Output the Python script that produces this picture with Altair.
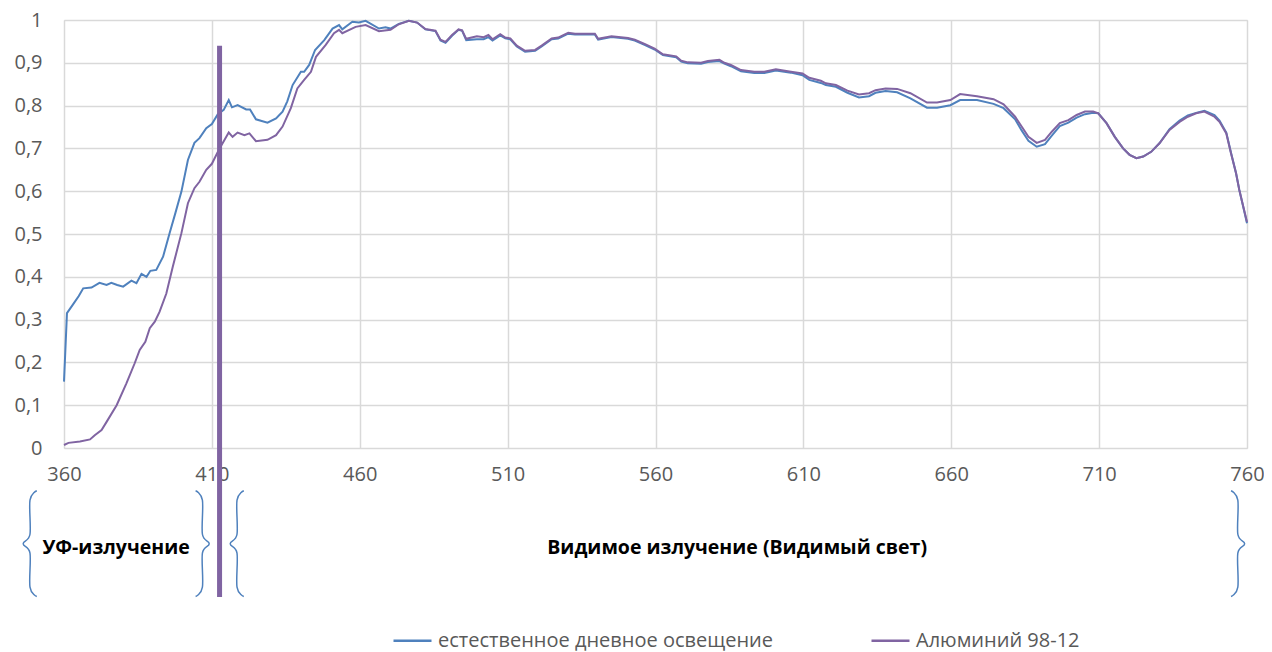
import altair as alt
import pandas as pd

# ---------------- data ----------------
series_day = "естественное дневное освещение"
series_al = "Алюминий 98-12"

wl_day = [360, 361, 363, 365, 366.5, 369.3, 372, 374.4, 376, 378, 380, 382.8, 384.5, 386.2, 387.9,
          389.2, 391.2, 393.5, 395.7, 397.7, 399.7, 401.9, 404.1, 405.8, 408.1, 410, 412, 414, 415.7,
          416.8, 418.7, 421.6, 422.9, 424.9, 428.8, 431.7, 433.9, 435.5, 437.3, 440.1, 441.2, 442.9,
          444.9, 448, 450.8, 453, 454.1, 457.5, 459.7, 462, 466.5, 468.7, 470.4, 473.2, 476.6, 479.4,
          482.2, 485.6, 487.3, 489, 491.2, 493.4, 494.6, 496, 499.6, 501.9, 503.5, 504.9, 507.5, 509.2,
          510.9, 513.1, 515.9, 519.3, 521.5, 524.9, 527.1, 530.5, 532.8, 539.5, 540.6, 545.1, 550.7,
          553, 556.3, 559.7, 562.5, 567, 568.7, 570.9, 575.4, 577.7, 581.6, 583.3, 585.5, 588.9, 593.4,
          596.8, 600.7, 605.8, 609.7, 612, 615.9, 617.6, 621, 624.9, 628.8, 632.2, 634.4, 637.8, 641.7,
          646.2, 651.8, 655.2, 659.7, 663, 668.7, 674.3, 677.7, 681.6, 683.8, 686.1, 688.9, 691.7, 694,
          696.7, 699.6, 702.4, 705.2, 708, 709.7, 712.5, 715.3, 718.1, 720.3, 722.6, 724.9, 727.6, 730.4,
          733.8, 737.2, 740, 742.8, 745.6, 749, 750.7, 753, 754.6, 756.3, 757.4, 760]
val_day = [0.155, 0.315, 0.335, 0.355, 0.373, 0.375, 0.386, 0.381, 0.386, 0.381, 0.377, 0.391, 0.385,
           0.407, 0.400, 0.414, 0.416, 0.447, 0.502, 0.55, 0.599, 0.673, 0.713, 0.724, 0.747, 0.757,
           0.78, 0.79, 0.813, 0.796, 0.801, 0.791, 0.791, 0.768, 0.76, 0.77, 0.786, 0.81, 0.848, 0.879,
           0.879, 0.895, 0.93, 0.953, 0.98, 0.988, 0.978, 0.996, 0.994, 0.998, 0.98, 0.983, 0.98, 0.991,
           0.998, 0.994, 0.978, 0.974, 0.952, 0.947, 0.963, 0.977, 0.975, 0.953, 0.955, 0.955, 0.96,
           0.952, 0.964, 0.957, 0.955, 0.938, 0.926, 0.928, 0.938, 0.955, 0.957, 0.968, 0.966, 0.966,
           0.954, 0.96, 0.956, 0.952, 0.942, 0.931, 0.918, 0.913, 0.903, 0.899, 0.898, 0.902, 0.904,
           0.898, 0.892, 0.88, 0.876, 0.876, 0.882, 0.877, 0.871, 0.86, 0.853, 0.848, 0.844, 0.83,
           0.819, 0.822, 0.83, 0.834, 0.831, 0.817, 0.795, 0.795, 0.801, 0.813, 0.813, 0.804, 0.794,
           0.768, 0.742, 0.718, 0.704, 0.71, 0.73, 0.752, 0.76, 0.772, 0.78, 0.783, 0.782, 0.759,
           0.727, 0.70, 0.685, 0.677, 0.681, 0.692, 0.712, 0.745, 0.765, 0.777, 0.783, 0.788, 0.778,
           0.765, 0.737, 0.69, 0.642, 0.603, 0.525]

wl_al = [360, 361.5, 365.4, 368.8, 370.4, 372.7, 374.4, 377.8, 381.1, 383.9, 385.6, 387.5, 389, 390.7,
         392.3, 394.6, 396.8, 399.7, 401.9, 404.1, 405.8, 408.1, 410, 412.6, 414.3, 415.7, 417, 418.7,
         421, 422.7, 424.9, 428.8, 431.7, 433.9, 436.7, 438.9, 441.2, 443.5, 445.2, 448.5, 451.3, 453,
         454.1, 458.6, 462, 466.5, 470.4, 473.2, 476.6, 479.4, 482.2, 485.6, 487.3, 489, 491.2, 493.4,
         494.6, 496, 499.6, 501.9, 503.5, 504.9, 507.5, 509.2, 510.9, 513.1, 515.9, 519.3, 521.5, 524.9,
         527.1, 530.5, 532.8, 539.5, 540.6, 545.1, 550.7, 553, 556.3, 559.7, 562.5, 567, 568.7, 570.9,
         575.4, 577.7, 581.6, 583.3, 585.5, 588.9, 593.4, 596.8, 600.7, 605.8, 609.7, 612, 615.9, 617.6,
         621, 624.9, 628.8, 632.2, 634.4, 637.8, 641.7, 646.2, 651.8, 655.2, 659.7, 663, 668.7, 674.3,
         677.7, 681.6, 683.8, 686.1, 688.9, 691.7, 694, 696.7, 699.6, 702.4, 705.2, 708, 709.7, 712.5,
         715.3, 718.1, 720.3, 722.6, 724.9, 727.6, 730.4, 733.8, 737.2, 740, 742.8, 745.6, 749, 750.7,
         753, 754.6, 756.3, 757.4, 760]
val_al = [0.007, 0.012, 0.015, 0.02, 0.03, 0.042, 0.061, 0.10, 0.151, 0.198, 0.229, 0.248, 0.28, 0.295,
          0.318, 0.361, 0.424, 0.502, 0.572, 0.607, 0.622, 0.65, 0.664, 0.70, 0.72, 0.737, 0.727, 0.737,
          0.731, 0.735, 0.717, 0.72, 0.731, 0.751, 0.794, 0.84, 0.86, 0.879, 0.914, 0.942, 0.969, 0.977,
          0.969, 0.984, 0.988, 0.974, 0.977, 0.99, 0.998, 0.994, 0.979, 0.975, 0.954, 0.949, 0.965, 0.978,
          0.976, 0.956, 0.962, 0.96, 0.965, 0.955, 0.967, 0.959, 0.957, 0.94, 0.928, 0.93, 0.94, 0.957,
          0.959, 0.97, 0.968, 0.968, 0.956, 0.962, 0.958, 0.954, 0.944, 0.933, 0.92, 0.915, 0.905, 0.901,
          0.9, 0.904, 0.907, 0.9, 0.895, 0.883, 0.879, 0.879, 0.885, 0.879, 0.875, 0.865, 0.858, 0.852,
          0.848, 0.835, 0.826, 0.829, 0.836, 0.84, 0.839, 0.829, 0.807, 0.807, 0.813, 0.827, 0.822, 0.815,
          0.803, 0.774, 0.751, 0.727, 0.713, 0.72, 0.739, 0.759, 0.766, 0.778, 0.786, 0.786, 0.782, 0.759,
          0.727, 0.70, 0.685, 0.677, 0.681, 0.692, 0.712, 0.743, 0.762, 0.774, 0.782, 0.786, 0.774, 0.762,
          0.735, 0.688, 0.642, 0.603, 0.528]

x_ticks = [360, 410, 460, 510, 560, 610, 660, 710, 760]
y_ticks = [0.0, 0.1, 0.2, 0.3, 0.4, 0.5, 0.6, 0.7, 0.8, 0.9, 1.0]

# annotation (region labels, braces, marker line) in data units
region_labels = ["УФ-излучение", "Видимое излучение (Видимый свет)"]
region_label_wl = [377.6, 587.6]
region_label_v = [-0.234, -0.234]

brace_bar_wl = [348.5, 406.8, 418.5, 756.9]
brace_dir = [-1, 1, -1, 1]          # -1 = "{", 1 = "}"
brace_top, brace_bottom = -0.10, -0.347

marker_wl = [412.6]
marker_top = [0.94]
marker_bottom = [-0.348]

# --------------- build tables ---------------
df = pd.concat([
    pd.DataFrame({"wl": wl_day, "v": val_day, "s": series_day, "o": range(len(wl_day))}),
    pd.DataFrame({"wl": wl_al, "v": val_al, "s": series_al, "o": range(len(wl_al))}),
], ignore_index=True)

rows = []
hw, r = 2.3, 0.022
mid = (brace_top + brace_bottom) / 2
for i, (bar, d) in enumerate(zip(brace_bar_wl, brace_dir)):
    end = bar - d * hw
    tip = bar + d * hw
    pts = [(end, brace_top), (bar, brace_top - r), (bar, mid + r), (tip, mid),
           (bar, mid - r), (bar, brace_bottom + r), (end, brace_bottom)]
    for j, (px, py) in enumerate(pts):
        rows.append({"wl": px, "v": py, "b": i, "o": j})
braces = pd.DataFrame(rows)

labels_df = pd.DataFrame({"wl": region_label_wl, "v": region_label_v, "t": region_labels})
marker_df = pd.DataFrame({"wl": marker_wl, "v": marker_top, "v2": marker_bottom})

FONT = "Open Sans"
GRID = "#d9d9d9"
LBL = "#595959"
BLUE = "#4F81BD"
PURPLE = "#8064A2"

xs = alt.Scale(domain=[360, 760], nice=False, zero=False)
ys = alt.Scale(domain=[0, 1], nice=False, zero=False)

x_enc = alt.X("wl:Q", scale=xs, axis=alt.Axis(
    values=x_ticks, title=None, grid=True, ticks=False, domain=False, labelPadding=16,
    labelFontSize=20, labelColor=LBL, labelFont=FONT, gridColor=GRID, gridWidth=1.5,
    labelFlush=False))
y_enc = alt.Y("v:Q", scale=ys, axis=alt.Axis(
    values=y_ticks, title=None, grid=True, ticks=False, domain=False, labelPadding=22,
    labelFontSize=20, labelColor=LBL, labelFont=FONT, gridColor=GRID, gridWidth=1.5,
    labelExpr="replace(format(datum.value, '.1~f'), '.', ',')"))

lines = alt.Chart(df).mark_line(strokeWidth=2).encode(
    x=x_enc, y=y_enc,
    color=alt.Color("s:N", scale=alt.Scale(domain=[series_day, series_al], range=[BLUE, PURPLE]),
                    legend=alt.Legend(orient="none", legendX=328, legendY=600, direction="horizontal",
                                      title=None, symbolType="stroke", symbolSize=1444,
                                      symbolStrokeWidth=2.5, labelFontSize=20, labelFont=FONT,
                                      labelColor=LBL, labelOffset=5, columnPadding=92,
                                      labelLimit=600)),
    order="o:Q",
)

brace_layer = alt.Chart(braces).mark_line(strokeWidth=1.5, color=BLUE, interpolate="cardinal",
                                          clip=False).encode(
    x=alt.X("wl:Q", scale=xs), y=alt.Y("v:Q", scale=ys), detail="b:N", order="o:Q")

text_layer = alt.Chart(labels_df).mark_text(font=FONT, fontSize=19.5, fontWeight="bold",
                                            color="black", clip=False).encode(
    x=alt.X("wl:Q", scale=xs), y=alt.Y("v:Q", scale=ys), text="t:N")

marker = alt.Chart(marker_df).mark_rule(strokeWidth=5, color=PURPLE, clip=False).encode(
    x=alt.X("wl:Q", scale=xs), y=alt.Y("v:Q", scale=ys), y2="v2:Q")

chart = alt.layer(lines, brace_layer, text_layer, marker).properties(
    width=1183, height=428, autosize="none",
    padding={"left": 56, "top": 12, "right": 17, "bottom": 210},
).configure_view(stroke=None).configure(font=FONT)

chart.save("out.html", embed_options={"renderer": "svg", "actions": False})
